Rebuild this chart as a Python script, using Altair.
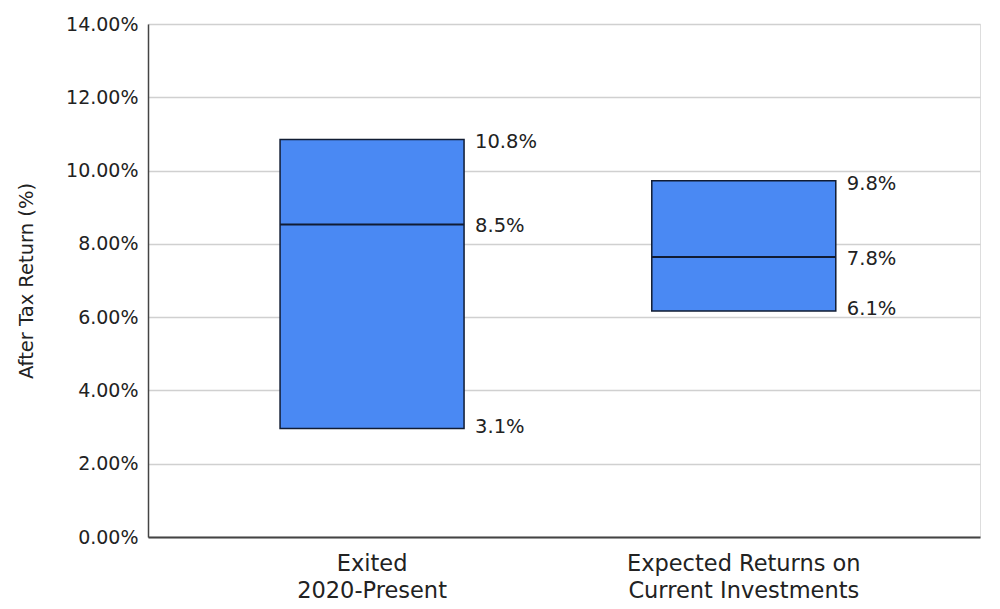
import altair as alt
import pandas as pd

categories = ["Exited|2020-Present", "Expected Returns on|Current Investments"]
low = [2.96, 6.17]
median = [8.53, 7.64]
high = [10.85, 9.72]
label_high = ["10.8%", "9.8%"]
label_median = ["8.5%", "7.8%"]
label_low = ["3.1%", "6.1%"]

df = pd.DataFrame({
    "cat": categories,
    "low": low,
    "median": median,
    "high": high,
    "lh": label_high,
    "lm": label_median,
    "ll": label_low,
})

FONT = "DejaVu Sans"
FILL = "#4a89f3"
EDGE = "#111c33"

xenc = alt.X(
    "cat:N",
    sort=categories,
    title=None,
    scale=alt.Scale(paddingInner=0.505, paddingOuter=0.3716, align=0.478),
    axis=alt.Axis(
        labelExpr="split(datum.label, '|')",
        labelFontSize=22.5,
        labelLineHeight=27,
        labelPadding=15,
        labelAngle=0,
        labelLimit=500,
        labelColor="#222",
        labelFont=FONT,
        ticks=False,
        domainColor="#444",
        domainWidth=2,
        grid=False,
    ),
)

yscale = alt.Scale(domain=[0, 14], nice=False, zero=True)
yaxis = alt.Axis(
    values=[0, 2, 4, 6, 8, 10, 12, 14],
    labelExpr="format(datum.value, '.2f') + '%'",
    labelFontSize=19,
    labelFont=FONT,
    labelColor="#222",
    labelPadding=10,
    ticks=False,
    domainColor="#444",
    domainWidth=1.5,
    gridColor="#d0d0d0",
    gridWidth=1.5,
    title="After Tax Return (%)",
    titleFont=FONT,
    titleFontSize=19.5,
    titleFontWeight="normal",
    titleColor="#222",
    titlePadding=29,
)

base = alt.Chart(df)

bars = base.mark_bar(fill=FILL, stroke=EDGE, strokeWidth=1.5).encode(
    x=xenc,
    y=alt.Y("low:Q", scale=yscale, axis=yaxis),
    y2="high:Q",
)

med = base.mark_tick(color=EDGE, thickness=2, size=184, opacity=1).encode(
    x=alt.X("cat:N", sort=categories),
    y="median:Q",
)

def labels(field, text, dy):
    return base.mark_text(
        align="left", baseline="middle", dx=11, dy=dy,
        font=FONT, fontSize=19.5, color="#222",
    ).encode(
        x=alt.X("cat:N", sort=categories, bandPosition=1),
        y=f"{field}:Q",
        text=f"{text}:N",
    )

chart = alt.layer(
    bars, med,
    labels("high", "lh", 3),
    labels("median", "lm", 2),
    labels("low", "ll", -2),
).properties(
    width=832,
    height=513,
    padding={"left": 140, "top": 16, "right": 12, "bottom": 64},
    autosize=alt.AutoSizeParams(type="none"),
).configure_view(stroke=None).configure(background="white")

chart.save("out.html", embed_options={"renderer": "svg", "actions": False})
